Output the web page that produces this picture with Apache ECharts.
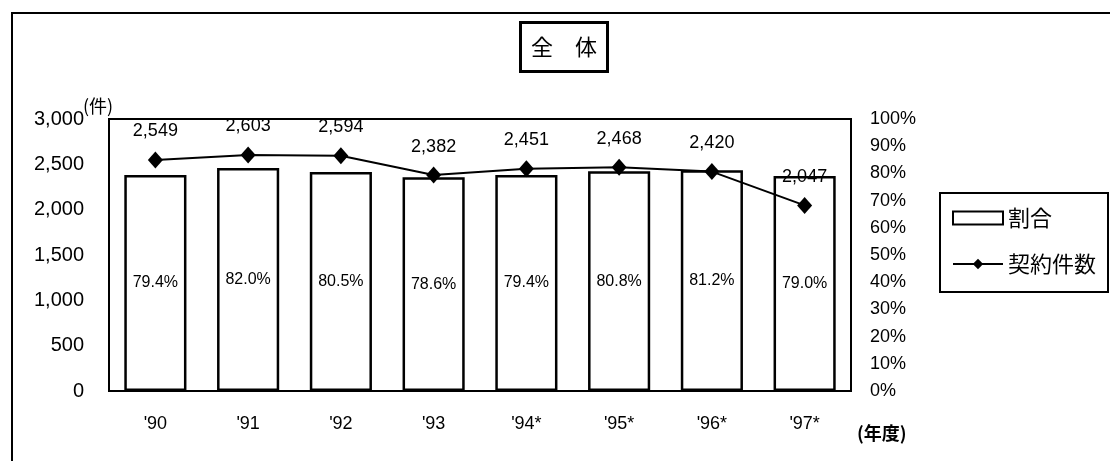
<!DOCTYPE html>
<html>
<head>
<meta charset="utf-8">
<script src="https://cdn.jsdelivr.net/npm/echarts@6/dist/echarts.min.js"></script>
<style>
html,body{margin:0;padding:0;background:#fff;}
#main{width:1110px;height:461px;}
</style>
</head>
<body>
<div id="main"></div>
<script>
const categories = ["'90", "'91", "'92", "'93", "'94*", "'95*", "'96*", "'97*"];
const ratioValues = [79.4, 82.0, 80.5, 78.6, 79.4, 80.8, 81.2, 79.0];
const contractValues = [2549, 2603, 2594, 2382, 2451, 2468, 2420, 2047];
const leftTicks = { min: 0, max: 3000, interval: 500 };
const rightTicks = { min: 0, max: 100, interval: 10 };

const LAT = "'Liberation Sans', Arial, sans-serif";
const CJK = "'Noto Sans CJK JP', sans-serif";

const chart = echarts.init(document.getElementById('main'), null, { renderer: 'canvas' });
chart.setOption({
  backgroundColor: '#fff',
  animation: false,
  title: {
    text: '全\u3000体',
    left: 520, top: 22,
    padding: [14, 11, 14, 11],
    borderColor: '#000', borderWidth: 3,
    textStyle: { fontFamily: CJK, fontSize: 22, fontWeight: 'normal', color: '#000' }
  },
  graphic: [
    { type: 'rect', shape: { x: 12, y: 13, width: 1300, height: 700 },
      style: { fill: 'none', stroke: '#000', lineWidth: 2 }, silent: true, z: -1 },
    { type: 'text', x: 83, y: 97,
      style: { text: '(件)', font: "18px 'Noto Sans CJK JP'", fill: '#000' } },
    { type: 'text', x: 857, y: 424,
      style: { text: '(年度)', font: "bold 18px 'Noto Sans CJK JP'", fill: '#000' } }
  ],
  legend: {
    orient: 'vertical',
    left: 940, top: 193,
    padding: [14, 12, 17, 12],
    borderColor: '#000', borderWidth: 2,
    itemWidth: 50, itemHeight: 13, itemGap: 24,
    textStyle: { fontFamily: CJK, fontSize: 22, color: '#000' },
    data: [
      { name: '割合', icon: 'rect', itemStyle: { color: '#fff', borderColor: '#000', borderWidth: 2 } },
      { name: '契約件数' }
    ]
  },
  grid: {
    left: 109, top: 119, width: 742, height: 272,
    show: true, borderColor: '#000', borderWidth: 2, backgroundColor: 'transparent'
  },
  xAxis: {
    type: 'category',
    data: categories,
    axisLine: { lineStyle: { color: '#000', width: 2 } },
    axisTick: { show: false },
    axisLabel: { color: '#000', fontFamily: LAT, fontSize: 18, margin: 24 }
  },
  yAxis: [
    {
      type: 'value', min: leftTicks.min, max: leftTicks.max, interval: leftTicks.interval,
      position: 'left',
      axisLine: { show: true, lineStyle: { color: '#000', width: 2 } },
      axisTick: { show: false },
      splitLine: { show: false },
      axisLabel: {
        color: '#000', fontFamily: LAT, fontSize: 20, margin: 25,
        formatter: v => v.toLocaleString('en-US')
      }
    },
    {
      type: 'value', min: rightTicks.min, max: rightTicks.max, interval: rightTicks.interval,
      position: 'right',
      axisLine: { show: true, lineStyle: { color: '#000', width: 2 } },
      axisTick: { show: false },
      splitLine: { show: false },
      axisLabel: { color: '#000', fontFamily: LAT, fontSize: 18, margin: 19, formatter: '{value}%' }
    }
  ],
  series: [
    {
      name: '割合', type: 'bar', yAxisIndex: 1,
      data: ratioValues,
      barWidth: '67%',
      itemStyle: { color: '#fff', borderColor: '#000', borderWidth: 2.5 },
      label: {
        show: true, position: 'inside', color: '#000',
        fontFamily: LAT, fontSize: 16,
        formatter: p => p.value.toFixed(1) + '%'
      },
      z: 2
    },
    {
      name: '契約件数', type: 'line', yAxisIndex: 0,
      data: contractValues,
      symbol: 'diamond', symbolSize: [15, 17],
      itemStyle: { color: '#000' },
      lineStyle: { color: '#000', width: 2 },
      label: {
        show: true, position: 'top', distance: 11, color: '#000',
        fontFamily: LAT, fontSize: 18,
        formatter: p => p.value.toLocaleString('en-US')
      },
      z: 3
    }
  ]
});
</script>
</body>
</html>
